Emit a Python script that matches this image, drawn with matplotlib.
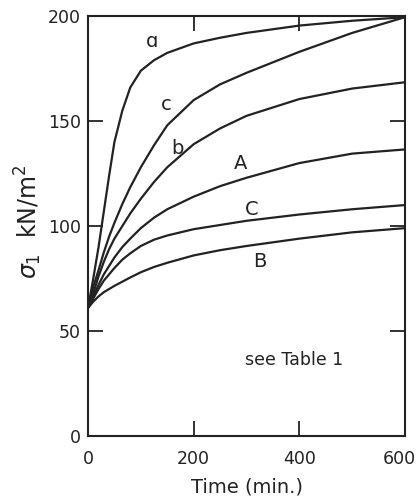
import matplotlib
matplotlib.use("Agg")
import matplotlib.pyplot as plt
import matplotlib.transforms as mtransforms

time = [0, 5, 10, 20, 30, 40, 50, 65, 80, 100, 125, 150, 200, 250, 300, 400, 500, 600]

# sigma_1 (kN/m^2) per test
curve_a = [61, 68, 75, 90, 107, 124, 140, 155, 166, 174, 179, 182.5, 187, 189.7, 192, 195.5, 197.8, 199.5]
curve_c_up = [61, 66, 71, 79, 87.5, 95, 101.5, 110.5, 118.5, 128, 138.5, 148, 160, 167.5, 173, 183, 192, 199.5]
curve_b = [61, 64, 68, 76, 83, 89, 94, 100, 106, 113, 121, 128, 139, 146.5, 152.5, 160.5, 165.5, 168.5]
curve_A = [61, 63.5, 66.5, 72, 77, 81, 85, 90, 94, 99, 104, 108, 114, 119, 123, 130, 134.5, 136.5]
curve_C = [61, 63, 65.5, 70, 74, 77, 80, 84, 87, 90.5, 93.5, 95.5, 98.5, 100.5, 102.5, 105.5, 108, 110]
curve_B = [61, 62.5, 64, 66.5, 68.5, 70, 71.5, 73.5, 75.5, 78, 80.5, 82.5, 86, 88.5, 90.5, 94, 97, 99]

curves = [curve_a, curve_c_up, curve_b, curve_A, curve_C, curve_B]
labels = ["ɑ", "c", "b", "A", "C", "B"]
label_pos = [(121, 188), (148, 158), (170, 137), (288, 130), (310, 108), (326, 83)]

ink = "#222222"

fig = plt.figure(figsize=(4.18, 5.04), dpi=100)
ax = fig.add_axes([0.2105, 0.135, 0.7585, 0.833])

for y in curves:
    ax.plot(time, y, color=ink, lw=1.6, solid_joinstyle="round", solid_capstyle="round")

for lab, (x, y) in zip(labels, label_pos):
    ax.text(x, y, lab, fontsize=14, color=ink, ha="center", va="center")

ax.text(390, 36, "see Table 1", fontsize=12.5, color=ink, ha="center", va="center")

ax.set_xlim(0, 600)
ax.set_ylim(0, 200)
ax.set_xticks([0, 200, 400, 600])
ax.set_yticks([0, 50, 100, 150, 200])
ax.tick_params(direction="in", length=11, width=1.3, color=ink, labelcolor=ink,
               labelsize=12.5, top=True, right=True)
ax.tick_params(axis="x", pad=10)
ax.tick_params(axis="y", pad=5)
for s in ax.spines.values():
    s.set_linewidth(1.5)
    s.set_color(ink)

# keep the last x label inside the picture
last = ax.get_xticklabels()[-1]
last.set_transform(last.get_transform() + mtransforms.ScaledTranslation(-6 / 100, 0, fig.dpi_scale_trans))

ax.set_xlabel("Time (min.)", fontsize=14, color=ink, labelpad=7)
ax.set_ylabel(r"$\sigma_1$  kN/m$^2$", fontsize=17, color=ink)
ax.yaxis.set_label_coords(-0.14, 0.51)

fig.savefig("out.png", dpi=100)
